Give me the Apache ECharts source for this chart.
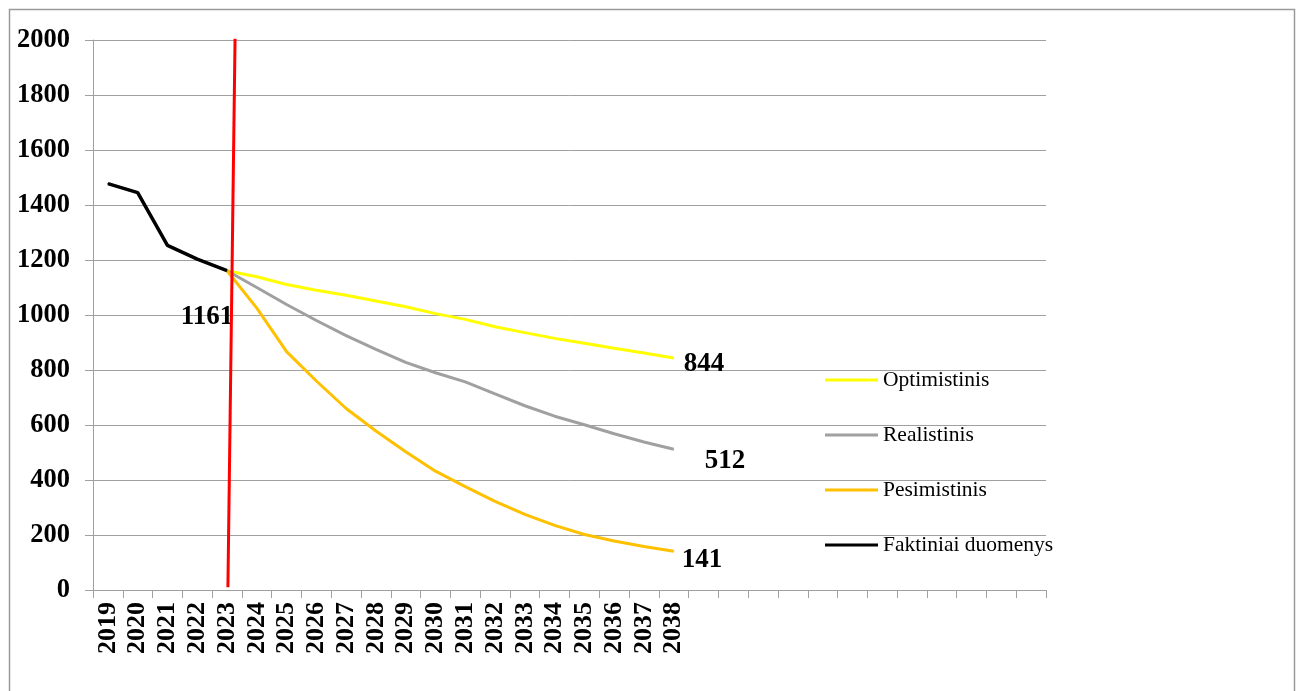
<!DOCTYPE html>
<html>
<head>
<meta charset="utf-8">
<script src="https://cdn.jsdelivr.net/npm/echarts@6/dist/echarts.min.js"></script>
<style>
html,body{margin:0;padding:0;background:#fff;}
#chart{width:1299px;height:691px;}
</style>
</head>
<body>
<div id="chart"></div>
<script>
// ---- data ----
const years = [];
for (let y = 2019; y <= 2050; y++) years.push(String(y));
const labelledYears = ['2019','2020','2021','2022','2023','2024','2025','2026','2027','2028','2029','2030','2031','2032','2033','2034','2035','2036','2037','2038'];
const actualYears = ['2019','2020','2021','2022','2023'];
const actual = [1478, 1445, 1253, 1203, 1161];
const scenarioYears = ['2023','2024','2025','2026','2027','2028','2029','2030','2031','2032','2033','2034','2035','2036','2037','2038'];
const optimistic  = [1161, 1139, 1111, 1090, 1072, 1051, 1030, 1005, 984, 957, 936, 915, 897, 879, 862, 844];
const realistic   = [1161, 1100, 1038, 980, 925, 875, 828, 790, 757, 713, 670, 632, 601, 568, 538, 512];
const pessimistic = [1161, 1025, 867, 760, 660, 578, 503, 432, 376, 322, 275, 235, 202, 178, 158, 141];
const yTicks = [0, 200, 400, 600, 800, 1000, 1200, 1400, 1600, 1800, 2000];
// red separator line (x in category units on a hidden value axis, y in data units)
const redLine = [[4.53, 10], [4.77, 2005]];

const serif = '"Liberation Serif", "Times New Roman", serif';

function buildSeries(xs, vals, endLabel) {
  const map = {};
  xs.forEach((x, i) => map[x] = vals[i]);
  return years.map((y) => {
    if (!(y in map)) return null;
    const v = map[y];
    if (endLabel && y === endLabel.year) {
      return { value: v, label: Object.assign({ show: true, formatter: String(v) }, endLabel.style) };
    }
    return v;
  });
}

const labelBase = { color: '#000', fontFamily: serif, fontWeight: 'bold', fontSize: 27, position: 'inside', align: 'left', verticalAlign: 'middle' };

const chart = echarts.init(document.getElementById('chart'));
chart.setOption({
  animation: false,
  backgroundColor: '#fff',
  graphic: [{
    type: 'rect', left: 7, top: 7, shape: { width: 1285, height: 700 },
    style: { fill: 'none', stroke: '#9a9a9a', lineWidth: 1.5 }, silent: true, z: -10
  }],
  grid: { left: 93, right: 253, top: 40, bottom: 101, containLabel: false },
  legend: {
    orient: 'vertical', left: 820, top: 364, itemGap: 33,
    itemWidth: 53, itemHeight: 3, icon: 'rect',
    textStyle: { fontFamily: serif, fontSize: 21.5, color: '#000', lineHeight: 20 },
    data: ['Optimistinis', 'Realistinis', 'Pesimistinis', 'Faktiniai duomenys']
  },
  xAxis: [{
    type: 'category', data: years, boundaryGap: true,
    axisLine: { lineStyle: { color: '#a0a0a0', width: 1 } },
    axisTick: { show: true, length: 8, interval: 0, lineStyle: { color: '#a0a0a0' } },
    axisLabel: {
      interval: 0, rotate: 90, margin: 12,
      fontFamily: serif, fontWeight: 'bold', fontSize: 26, color: '#000',
      formatter: v => labelledYears.indexOf(v) >= 0 ? v : ''
    },
    splitLine: { show: false }
  }, {
    type: 'value', min: 0, max: 32, show: false
  }],
  yAxis: {
    type: 'value', min: 0, max: 2000, interval: 200,
    axisLine: { show: true, lineStyle: { color: '#a0a0a0', width: 1 } },
    axisTick: { show: true, length: 8, lineStyle: { color: '#a0a0a0' } },
    axisLabel: {
      margin: 23, fontFamily: serif, fontWeight: 'bold', fontSize: 26.5, color: '#000',
      formatter: v => yTicks.indexOf(v) >= 0 ? String(v) : ''
    },
    splitLine: { show: true, lineStyle: { color: '#a0a0a0', width: 1 } }
  },
  series: [{
    name: 'Optimistinis', type: 'line', color: '#FFFF00',
    data: buildSeries(scenarioYears, optimistic, { year: '2038', style: Object.assign({}, labelBase, { offset: [10, 6] }) }),
    lineStyle: { width: 3, color: '#FFFF00' }, symbol: 'circle', symbolSize: 1, showSymbol: true,
    itemStyle: { color: '#FFFF00' }, z: 3
  }, {
    name: 'Realistinis', type: 'line', color: '#A0A0A0',
    data: buildSeries(scenarioYears, realistic, { year: '2038', style: Object.assign({}, labelBase, { offset: [31, 12] }) }),
    lineStyle: { width: 3, color: '#A0A0A0' }, symbol: 'circle', symbolSize: 1, showSymbol: true,
    itemStyle: { color: '#A0A0A0' }, z: 3
  }, {
    name: 'Pesimistinis', type: 'line', color: '#FFC000',
    data: buildSeries(scenarioYears, pessimistic, { year: '2038', style: Object.assign({}, labelBase, { offset: [8, 9] }) }),
    lineStyle: { width: 3, color: '#FFC000' }, symbol: 'circle', symbolSize: 1, showSymbol: true,
    itemStyle: { color: '#FFC000' }, z: 3
  }, {
    name: 'Faktiniai duomenys', type: 'line', color: '#000000',
    data: buildSeries(actualYears, actual, { year: '2023', style: Object.assign({}, labelBase, { align: 'center', offset: [-20, 46] }) }),
    lineStyle: { width: 3.5, color: '#000000' }, symbol: 'circle', symbolSize: 1, showSymbol: true,
    itemStyle: { color: '#000000' }, z: 4
  }, {
    name: 'sep', type: 'line', xAxisIndex: 1, yAxisIndex: 0,
    data: redLine, symbol: 'none', lineStyle: { width: 3, color: '#FF0000' },
    z: 10, silent: true
  }]
});
</script>
</body>
</html>
